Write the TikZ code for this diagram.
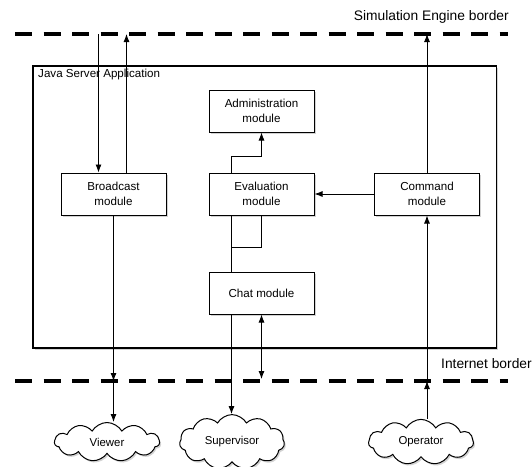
\documentclass[tikz,border=0pt]{standalone}
\usepackage{fontspec}
\setmainfont{Liberation Sans}
\usetikzlibrary{positioning}
\usetikzlibrary{shapes.symbols}
\usetikzlibrary{shadows}
\usetikzlibrary{arrows.meta}

\tikzset{
  softshadow/.style={drop shadow={shadow xshift=1.5pt, shadow yshift=-1.8pt, opacity=0.35}},
  module/.style={draw, line width=1pt, fill=white, minimum width=105pt, minimum height=42pt,
    align=center, font=\fontsize{11.6}{15}\selectfont, softshadow},
  user/.style={cloud, cloud puffs=11, cloud puff arc=120, aspect=1.75, draw, line width=1pt,
    fill=white, minimum width=105pt, minimum height=39pt, inner sep=0pt,
    font=\fontsize{11.4}{13}\selectfont, softshadow},
  appbox/.style={draw, line width=1.3pt, fill=white, minimum width=463.5pt, minimum height=282pt, softshadow},
  bordertext/.style={inner sep=0pt, font=\fontsize{13.8}{16}\selectfont},
  border/.style={line width=3.5pt, dash pattern=on 17pt off 11.5pt},
  wire/.style={line width=0.9pt},
  tip/.style={-{Latex[length=8pt,width=6pt]}},
  link/.style={wire, tip},
}

\begin{document}
\begin{tikzpicture}[x=1pt,y=-1pt]
  \useasboundingbox (0,0) rectangle (532,466);

  % Draw the two borders
  \coordinate (simL) at (15,34);
  \coordinate (simR) at (508,34);
  \draw[border] (simL) -- (simR);
  \node[bordertext, anchor=east] (simtext) at (509,17) {Simulation Engine border};
  \coordinate (netL) at (15,381);
  \coordinate (netR) at (508,381);
  \draw[border] (netL) -- (netR);
  \node[bordertext, anchor=west] (nettext) at (441,364) {Internet border};

  % Draw the server application
  \node[appbox] (app) at (264.75,207) {};
  \node[anchor=west, inner sep=0pt, font=\fontsize{11.6}{13}\selectfont] (apptext) at (38,74) {Java Server Application};

  % Draw the modules
  \node[module] (admin) at (261.5,111) {Administration\\module};
  \node[module] (broadcast) at (113.5,194) {Broadcast\\module};
  \node[module] (evaluation) at (261.5,194) {Evaluation\\module};
  \node[module] (command) at (427,194) {Command\\module};
  \node[module] (chat) at (261.5,293) {Chat module};

  % Draw the users
  \node[user] (viewer) at (107,442) {Viewer};
  \node[user] (supervisor) at (232,442) {Supervisor};
  \node[user] (operator) at (421,442) {Operator};

  % Connect broadcast module
  \draw[link] ([xshift=-15pt]broadcast.north |- simL) -- ([xshift=-15pt]broadcast.north);
  \draw[link] ([xshift=13pt]broadcast.north) -- ([xshift=13pt]broadcast.north |- simL);
  \draw[link] (broadcast.south) -- (broadcast.south |- netL);
  \draw[link] (broadcast.south |- netL) -- (broadcast.south |- viewer.north);

  % Connect evaluation module
  \draw[link] ([xshift=-30pt]evaluation.north) -- ++(0,-16) -| (admin.south);
  \draw[wire] ([xshift=-30pt]evaluation.south) -- ([xshift=-30pt]chat.north);
  \draw[wire] (evaluation.south) -- ++(0,32) -- ++(-30,0);
  \draw[link] (command.west) -- (evaluation.east);
  \draw[link] (command.north) -- (command.north |- simL);

  % Connect chat module
  \draw[link] ([xshift=-30pt]chat.south) -- ([xshift=-30pt]chat.south |- supervisor.north);
  \draw[wire, {Latex[length=8pt,width=6pt]}-{Latex[length=8pt,width=6pt]}, shorten >=2pt] (chat.south) -- (chat.south |- netL);

  % Connect operator
  \draw[link] (operator.north -| command.south) -- (command.south |- netL);
  \draw[link] (command.south |- netL) -- (command.south);

\end{tikzpicture}
\end{document}
